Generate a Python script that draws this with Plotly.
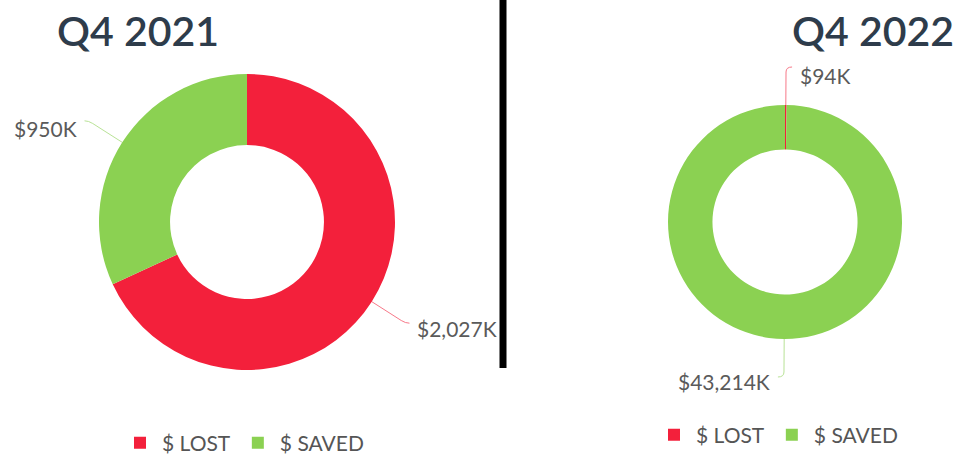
import math
import plotly.graph_objects as go

W, H = 968, 457

labels = ["$ LOST", "$ SAVED"]
values_2021 = [2027, 950]
values_2022 = [94, 43214]
text_2021 = ["$2,027K", "$950K"]
text_2022 = ["$94K", "$43,214K"]
titles = ["Q4 2021", "Q4 2022"]
colors = ["#f3203b", "#8bd152"]

# layout geometry (pixels of the final picture)
pies = [
    dict(values=values_2021, text=text_2021, cx=247, cy=222, r=148, hole=0.52,
         legend="legend", group="g2021", L=40, hook=4, gap=10),
    dict(values=values_2022, text=text_2022, cx=785, cy=222, r=117, hole=0.62,
         legend="legend2", group="g2022", L=38, hook=6, gap=12),
]

def px(x):
    return x / W

def py(y):
    return 1 - y / H

fig = go.Figure()
shapes = []
annotations = []
for i, p in enumerate(pies):
    fig.add_trace(go.Pie(
        labels=labels, values=p["values"], hole=p["hole"],
        sort=False, direction="clockwise", rotation=0,
        marker=dict(colors=colors, line=dict(width=0)),
        textinfo="none", hoverinfo="label+value",
        domain=dict(x=[px(p["cx"] - p["r"]), px(p["cx"] + p["r"])],
                    y=[py(p["cy"] + p["r"]), py(p["cy"] - p["r"])]),
        legend=p["legend"], legendgroup=p["group"], showlegend=True,
    ))
    total = sum(p["values"])
    cum = 0
    for v, t, c in zip(p["values"], p["text"], colors):
        mid = (cum + v / 2) / total * 2 * math.pi
        cum += v
        dx, dy = math.sin(mid), -math.cos(mid)
        r0, r1 = p["r"], p["r"] + p["L"]
        x0, y0 = p["cx"] + dx * r0, p["cy"] + dy * r0
        xa, ya = p["cx"] + dx * (r1 - 5), p["cy"] + dy * (r1 - 5)
        x1, y1 = p["cx"] + dx * r1, p["cy"] + dy * r1
        side = 1 if dx >= 0 else -1
        hx = x1 + side * p["hook"]
        shapes.append(dict(
            type="path", xref="paper", yref="paper",
            path=(f"M{px(x0)},{py(y0)} L{px(xa)},{py(ya)} "
                  f"Q{px(x1)},{py(y1)} {px(hx)},{py(y1)}"),
            line=dict(color=c, width=1), opacity=0.6,
        ))
        annotations.append(dict(
            x=px(x1 + side * p["gap"]), y=py(y1 + (8 if dy < 0 else 5)),
            xref="paper", yref="paper",
            text=t, showarrow=False, xanchor="left" if side > 0 else "right", yanchor="middle",
            font=dict(family="Lato", size=21, color="#5a5a5a"),
        ))

for t, xc in zip(titles, [138, 873]):
    annotations.append(dict(x=px(xc), y=py(30), xref="paper", yref="paper", text=t,
                            showarrow=False, xanchor="center", yanchor="middle",
                            font=dict(family="Lato", size=41, color="#2e3c4b", weight=600)))

shapes.append(dict(type="line", xref="paper", yref="paper", x0=px(503), x1=px(503),
                   y0=py(0), y1=py(368), line=dict(color="black", width=7)))

legend_style = dict(orientation="h", xanchor="left", yanchor="middle", traceorder="normal",
                    font=dict(family="Lato", size=21, color="#555555"),
                    itemwidth=34, bgcolor="rgba(0,0,0,0)", tracegroupgap=0)

fig.update_layout(
    width=W, height=H, margin=dict(l=0, r=0, t=0, b=0, autoexpand=False),
    paper_bgcolor="white", plot_bgcolor="white",
    shapes=shapes, annotations=annotations,
    legend=dict(x=px(118), y=py(443), **legend_style),
    legend2=dict(x=px(652), y=py(435), **legend_style),
)

fig.write_html("out.html", config={"displayModeBar": False},
               post_script="document.body.style.margin='0';")
